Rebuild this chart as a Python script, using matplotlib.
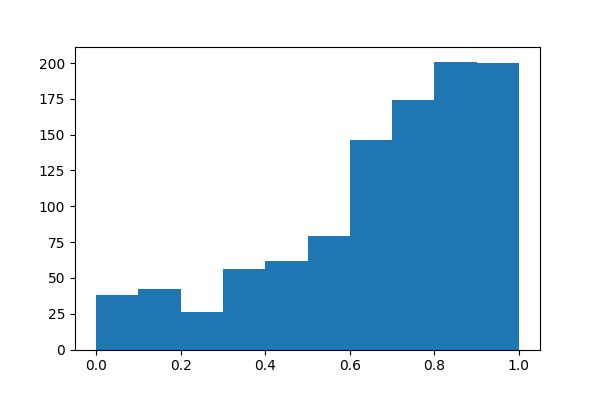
import numpy as np
import matplotlib
matplotlib.use('Agg')
import matplotlib.pyplot as plt

# histogram counts (10 bins over 0..1)
bin_edges = [0.0, 0.1, 0.2, 0.3, 0.4, 0.5, 0.6, 0.7, 0.8, 0.9, 1.0]
counts = [38, 42, 26, 56, 62, 79, 146, 174, 201, 200]

fig, ax = plt.subplots(figsize=(6, 4), dpi=100)
fig.subplots_adjust(left=0.125, right=0.9, top=0.882, bottom=0.126)
ax.hist(bin_edges[:-1], bins=bin_edges, weights=counts, color='#1f77b4')

fig.savefig('out.png')
